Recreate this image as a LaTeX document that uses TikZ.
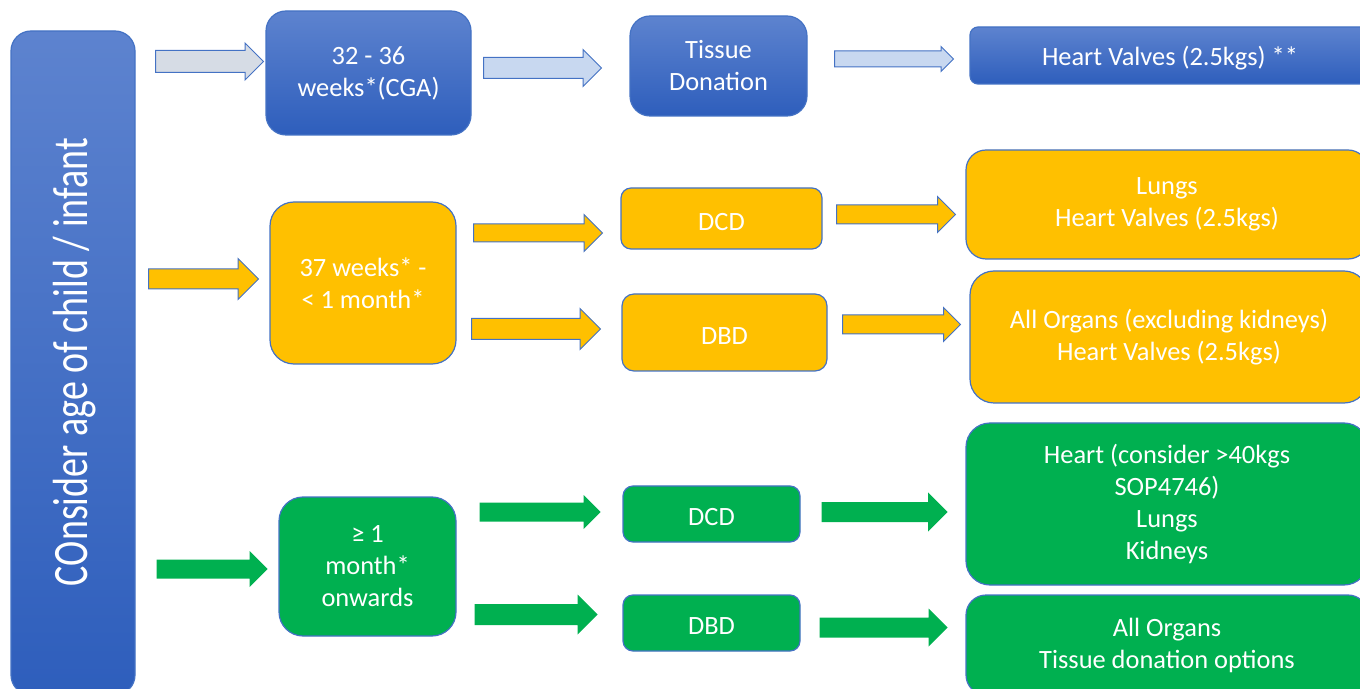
\documentclass[tikz,border=0pt]{standalone}
\usepackage{fontspec}
\setmainfont{Carlito}
\usepackage{tikz}
\usepackage{xcolor}
\usetikzlibrary{shapes.arrows}

\definecolor{edgeblue}{RGB}{68,114,196}
\definecolor{topblue}{RGB}{93,131,207}
\definecolor{botblue}{RGB}{46,94,188}
\definecolor{paleblue}{RGB}{200,216,240}
\definecolor{greyblue}{RGB}{214,220,229}
\definecolor{amber}{RGB}{255,192,0}
\definecolor{leaf}{RGB}{0,176,80}

\newcommand{\px}{0.5pt}

\begin{document}
\begin{tikzpicture}[x=\px, y=-\px,
        every node/.style={text=white, align=center, inner sep=0pt,
            font=\fontsize{13.2}{16}\selectfont},
        box/.style 2 args={draw=edgeblue, line width=0.6pt,
            minimum width=#1*\px, minimum height=#2*\px,
            execute at begin node={\rule{0pt}{11.8pt}}},
        bluebox/.style={top color=topblue, bottom color=botblue},
        barrow/.style n args={3}{single arrow, anchor=tail,
            minimum height=#1*\px, inner ysep=#2*\px/2,
            single arrow head extend=(#3-#2)*\px/2, line width=0.5pt}]
        \clip (0,0) rectangle (1360,689);

        \node [box={124}{664}, bluebox, rounded corners=10pt] (bar) at (73,363) {};
        \node [rotate=90, font=\fontsize{19}{22}\selectfont] (barlabel) at (75,362)
            {\scalebox{1}[1.3]{COnsider age of child / infant}};

        % 32 - 36 weeks
        \node [box={205}{124}, bluebox, rounded corners=10pt] (weeks) at (368.5,73) {32 - 36\\weeks*(CGA)};
        \node [box={177}{100}, bluebox, rounded corners=10pt] (tissue) at (718.5,66) {Tissue\\Donation};
        \node [box={400}{57}, bluebox, rounded corners=4pt] (valves) at (1170,55.5) {Heart Valves (2.5kgs) **};

        \node [barrow={108}{21}{36}, draw=edgeblue, fill=greyblue] (a1) at (155,61.5) {};
        \node [barrow={118}{20}{36}, draw=edgeblue, fill=paleblue] (a2) at (483,68) {};
        \node [barrow={119}{15}{24}, draw=edgeblue, fill=paleblue] (a3) at (834,59) {};

        % 37 weeks - < 1 month
        \node [box={186}{162}, fill=amber, rounded corners=12pt] (term) at (363,283) {37 weeks* -\\< 1 month*};
        \node [box={201}{61}, fill=amber, rounded corners=5pt] (dcda) at (721.5,218.5) {DCD};
        \node [box={205}{77}, fill=amber, rounded corners=6pt] (dbda) at (724.5,332.5) {DBD};
        \node [box={402}{109}, fill=amber, rounded corners=10pt] (lungsa) at (1167,204.5) {Lungs\\Heart Valves (2.5kgs)};
        \node [box={398}{132}, fill=amber, rounded corners=12pt] (organsa) at (1169,337) {All Organs (excluding kidneys)\\Heart Valves (2.5kgs)};

        \node [barrow={110}{19}{40}, draw=edgeblue, fill=amber] (a4) at (148,279) {};
        \node [barrow={129}{17}{36}, draw=edgeblue, fill=amber] (a5) at (473,233) {};
        \node [barrow={129}{20}{40}, draw=edgeblue, fill=amber] (a6) at (471,329) {};
        \node [barrow={119}{18}{35}, draw=edgeblue, fill=amber] (a7) at (836,214.5) {};
        \node [barrow={118}{18}{33}, draw=edgeblue, fill=amber] (a8) at (842,324.5) {};

        % >= 1 month
        \node [box={177}{139}, fill=leaf, rounded corners=12pt] (month) at (367.5,566.5) {≥ 1\\month*\\onwards};
        \node [box={177}{56}, fill=leaf, rounded corners=5pt] (dcdb) at (711.5,514) {DCD};
        \node [box={177}{56}, fill=leaf, rounded corners=5pt] (dbdb) at (711.5,623) {DBD};
        \node [box={402}{162}, fill=leaf, rounded corners=12pt] (heartb) at (1167,504) {Heart (consider >40kgs\\SOP4746)\\Lungs\\Kidneys};
        \node [box={402}{100}, fill=leaf, rounded corners=10pt] (organsb) at (1167,645) {All Organs\\Tissue donation options};

        \node [barrow={111}{18}{35}, fill=leaf] (a9) at (156,569) {};
        \node [barrow={121}{18}{33}, fill=leaf] (a10) at (479,512) {};
        \node [barrow={123}{20}{39}, fill=leaf] (a11) at (474,614.5) {};
        \node [barrow={126}{19}{38}, fill=leaf] (a12) at (821,512) {};
        \node [barrow={128}{19}{37}, fill=leaf] (a13) at (819,627.5) {};
\end{tikzpicture}
\end{document}
